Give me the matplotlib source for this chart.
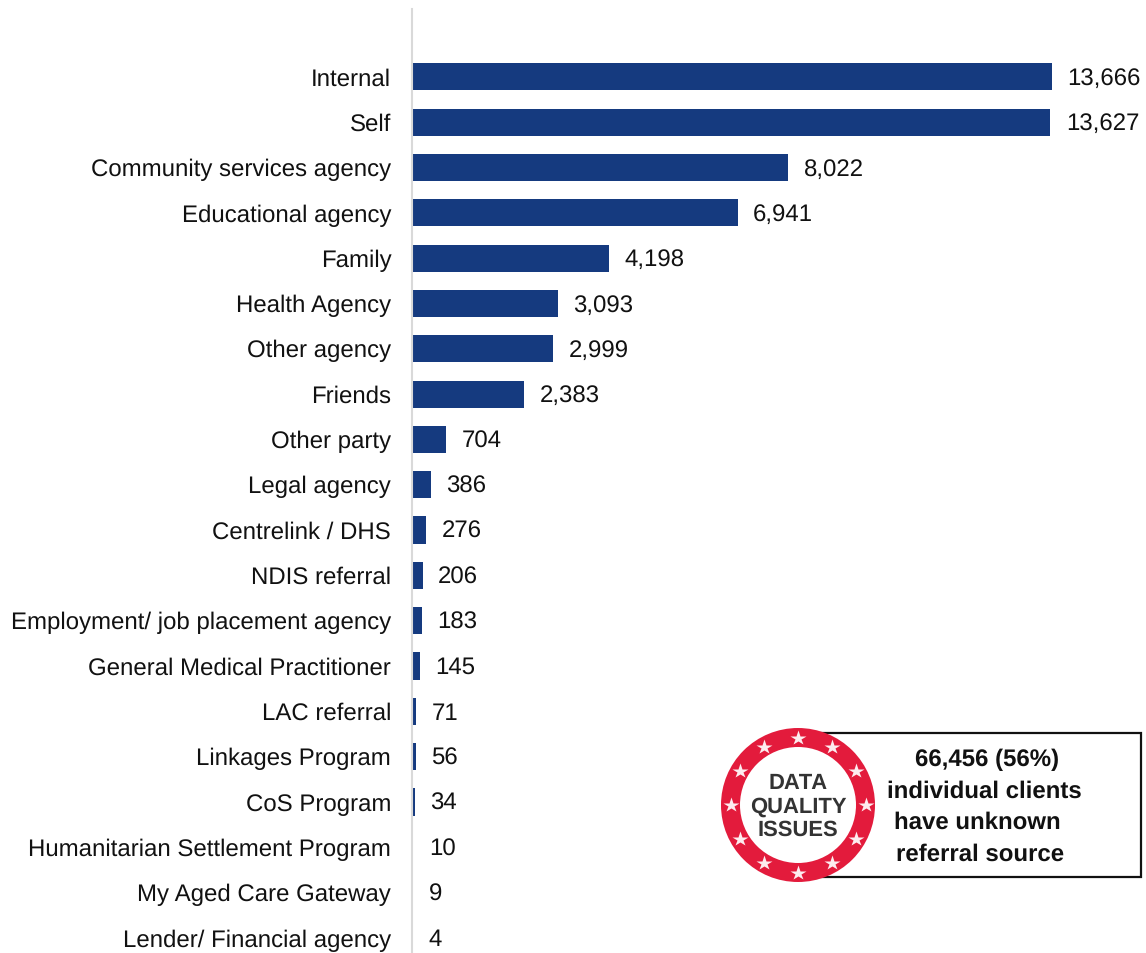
import matplotlib
matplotlib.use("Agg")
import matplotlib.pyplot as plt
import matplotlib.transforms as mtrans
import numpy as np
from matplotlib.patches import Circle, Rectangle

plt.rcParams['font.family'] = ['Liberation Sans', 'DejaVu Sans']
plt.rcParams['text.hinting'] = 'no_hinting'
plt.rcParams['text.hinting_factor'] = 1

categories = ["Internal", "Self", "Community services agency", "Educational agency", "Family",
              "Health Agency", "Other agency", "Friends", "Other party", "Legal agency",
              "Centrelink / DHS", "NDIS referral", "Employment/ job placement agency",
              "General Medical Practitioner", "LAC referral", "Linkages Program", "CoS Program",
              "Humanitarian Settlement Program", "My Aged Care Gateway", "Lender/ Financial agency"]
values = [13666, 13627, 8022, 6941, 4198, 3093, 2999, 2383, 704, 386, 276, 206, 183, 145, 71, 56, 34, 10, 9, 4]
callout_lines = ["66,456 (56%)", "individual clients", "have unknown", "referral source"]
badge_lines = ["DATA", "QUALITY", "ISSUES"]

W, H = 1146, 954
fig = plt.figure(figsize=(W/100, H/100), dpi=100)
ax = fig.add_axes([413/W, 0, (1052-413)/W, 1-10/H])
step = (938-77)/19
ax.set_ylim(19+(954-938.9)/step, -(77.9-10)/step)
ax.set_xlim(0, 13666)
y = np.arange(len(values))
ax.barh(y, values, height=0.6, color="#153A7F")
for s in ("top", "right", "bottom"):
    ax.spines[s].set_visible(False)
ax.spines["left"].set_color("#D9D9D9")
ax.spines["left"].set_linewidth(1.5)
ax.spines["left"].set_position(("outward", 0.7))
ax.set_xticks([])
ax.set_yticks(y)
ax.set_yticklabels(categories, fontsize=17.2, color="#111111")
ax.tick_params(axis="y", length=0, pad=15.0)
lift = mtrans.Affine2D().translate(0, 1.0)
for lab in ax.get_yticklabels():
    lab.set_transform(lab.get_transform() + lift)
for yi, v in zip(y, values):
    ax.annotate(f"{v:,}", (v, yi), xytext=(15.5, -1.0), textcoords="offset pixels",
                va="center", ha="left", fontsize=17.2, color="#111111", annotation_clip=False)

ov = fig.add_axes([0, 0, 1, 1])
ov.set_xlim(0, W); ov.set_ylim(H, 0); ov.axis("off"); ov.patch.set_alpha(0)
ov.add_patch(Rectangle((798, 733.5), 343, 144.5, fc="white", ec="#111111", lw=1.6))
for t, xc, yc in zip(callout_lines, [987, 984, 977, 980], [760, 791.5, 823, 854.5]):
    ov.text(xc, yc, t, ha="center", va="center", fontsize=17.1, fontweight="bold", color="#111111")
cx, cy = 798, 806
ov.add_patch(Circle((cx, cy), 77, fc="#E31B3C", ec="none"))
ov.add_patch(Circle((cx, cy), 58, fc="white", ec="none"))
for a in np.arange(0, 360, 30):
    r = 67.5
    ov.plot(cx+r*np.sin(np.radians(a)), cy-r*np.cos(np.radians(a)), marker="*", ms=11.5, color="#FDECEF", mec="none")
for t, yc in zip(badge_lines, [783, 807, 830]):
    ov.text(cx, yc, t, ha="center", va="center", fontsize=16.2, fontweight="bold", color="#333333")
fig.savefig("out.png", dpi=100)
